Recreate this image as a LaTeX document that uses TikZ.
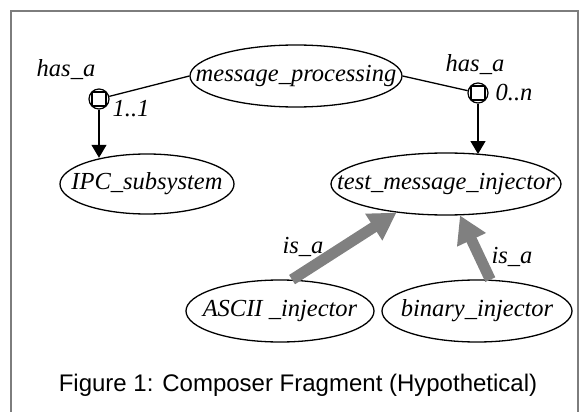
\documentclass[tikz,border=0pt]{standalone}
\usepackage{fontspec}
\setmainfont{Liberation Serif}
\newfontfamily\captionfont{Liberation Sans}
\usetikzlibrary{shapes.geometric,arrows.meta}
\definecolor{isgrey}{RGB}{128,128,128}
\definecolor{framegrey}{RGB}{125,125,125}
\begin{document}
\begin{tikzpicture}[x=1pt,y=-1pt,
  labelfont/.style={font=\fontsize{24.5}{28}\selectfont\itshape},
  concept/.style={ellipse,draw,line width=1.3pt,inner sep=0pt,fill=white},
  port/.style={circle,draw,line width=1.2pt,minimum size=20pt,inner sep=0pt,fill=white,
    path picture={\draw[line width=1.2pt] ([shift={(-7pt,-7pt)}]path picture bounding box.center) rectangle ++(14pt,14pt);}},
  rolelabel/.style={labelfont,inner sep=0pt,anchor=base},
  link/.style={line width=1.3pt},
  hasarrow/.style={line width=1.3pt,-{Triangle[length=13pt,width=15pt]}},
  isarrow/.style={line width=11pt,draw=isgrey,-{Triangle[length=27pt,width=30pt]}},
]
\useasboundingbox (0,0) rectangle (582,412);

% surrounding frame (runs on below the page edge)
\draw[framegrey,line width=2.5pt] (11,440) -- (11,11) -- (578,11) -- (578,440);

% concepts
\node[concept,minimum width=212pt,minimum height=62pt,
      label={[labelfont]center:message\_processing}] (mp) at (296,76) {};
\node[concept,minimum width=174pt,minimum height=60pt,
      label={[labelfont]center:IPC\_subsystem}] (ipc) at (147,184) {};
\node[concept,minimum width=230pt,minimum height=62pt,
      label={[labelfont]center:test\_message\_injector}] (tmi) at (446,184) {};
\node[concept,minimum width=188pt,minimum height=62pt,
      label={[labelfont]center:ASCII \_injector}] (ascii) at (280,311) {};
\node[concept,minimum width=190pt,minimum height=62pt,
      label={[labelfont]center:binary\_injector}] (bin) at (477,311) {};

% has_a relations
\node[port] (c1) at (99,99) {};
\node[port] (c2) at (478,93) {};
\draw[link] (mp.west) -- (c1);
\draw[link] (mp.east) -- (c2);
\draw[hasarrow] (c1) -- (c1 |- ipc.150);
\draw[hasarrow] (c2) -- (c2 |- tmi.39);

\node[rolelabel] (h1) at (66,77) {has\_a};
\node[rolelabel] (m1) at (131,117) {1..1};
\node[rolelabel] (h2) at (475,72) {has\_a};
\node[rolelabel] (m2) at (514,101) {0..n};

% is_a relations
\draw[isarrow] (ascii.69) -- (tmi.210);
\draw[isarrow] (bin.67) -- (tmi.294);
\node[rolelabel] (i1) at (303,253) {is\_a};
\node[rolelabel] (i2) at (512,263) {is\_a};

% caption
\node[font=\captionfont\fontsize{24}{28}\selectfont,inner sep=0pt,anchor=base] (cap)
  at (298,391) {Figure 1: Composer Fragment (Hypothetical)};
\end{tikzpicture}
\end{document}
